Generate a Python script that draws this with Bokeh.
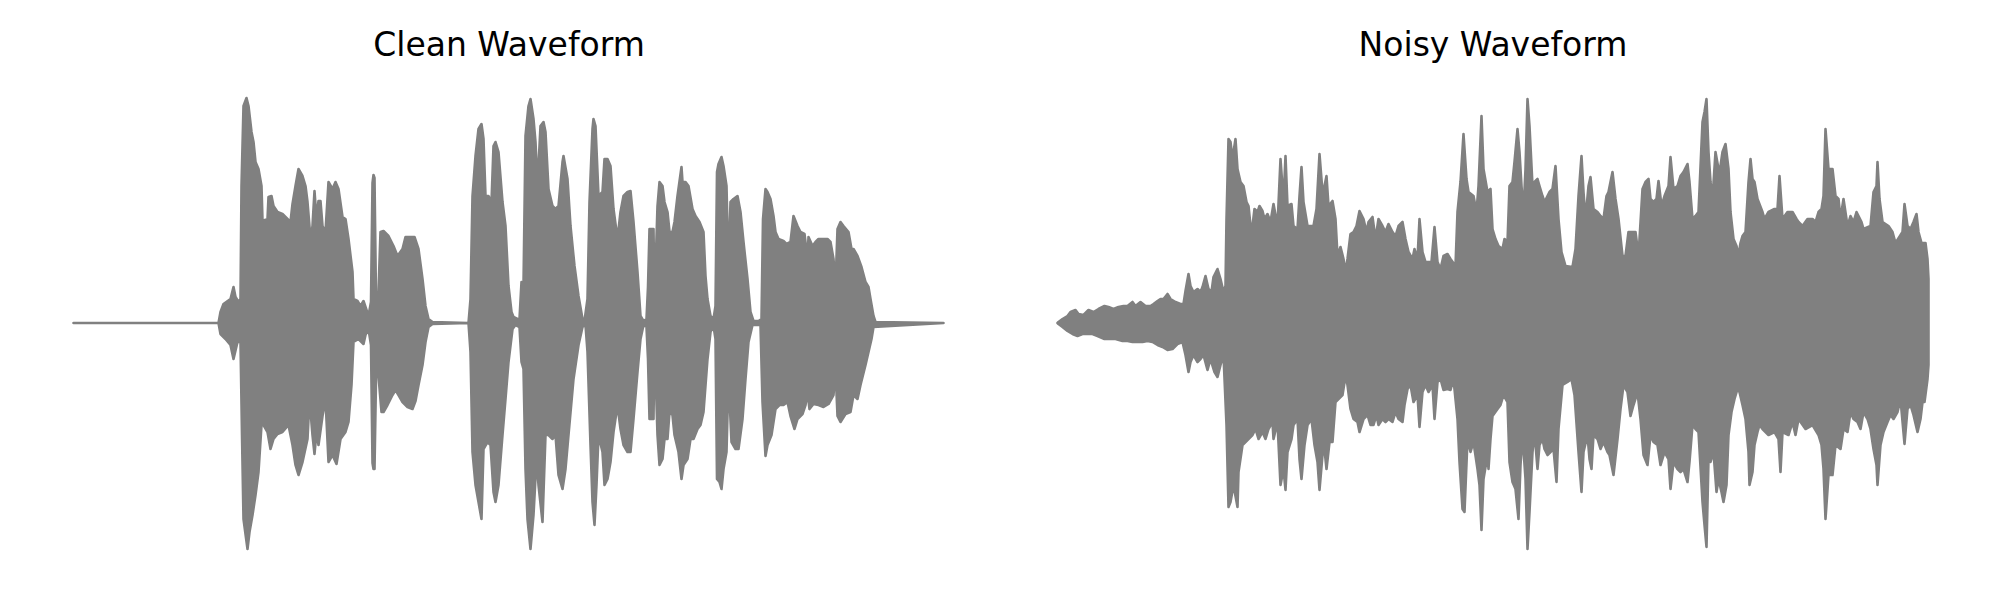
from bokeh.plotting import figure
from bokeh.layouts import row
from bokeh.models import Range1d
from bokeh.embed import file_html
from bokeh.resources import INLINE

# ---- data: waveform envelopes (time in ms, amplitude in arbitrary units) ----
titles = ["Clean Waveform", "Noisy Waveform"]

clean_upper = [
    (0, 0), (145, 0), (147, 11), (150, 19), (157, 24), (160, 36), (162, 26), (165, 21), (167, 24),
    (168, 137), (170, 217), (173, 225), (175, 217), (178, 191), (180, 181), (182, 161), (185, 154),
    (188, 137), (189, 102), (194, 104), (195, 126), (198, 127), (200, 117), (204, 111), (209, 109),
    (214, 104), (217, 101), (219, 119), (222, 137), (225, 154), (229, 147), (232, 137), (234, 121),
    (237, 84), (239, 97), (241, 132), (243, 104), (245, 122), (247, 122), (249, 97), (252, 91),
    (255, 141), (259, 134), (262, 141), (265, 134), (269, 106), (272, 104), (275, 84), (279, 51),
    (280, 24), (284, 22), (287, 17), (290, 22), (292, 16), (295, 7), (297.5, 21), (299, 140),
    (300, 148), (301, 145), (302.5, 24), (305, 31), (307, 91), (310, 92), (315, 87), (320, 77),
    (324, 67), (329, 74), (332, 86), (337, 86), (341, 86), (345, 74), (349, 44), (352, 17),
    (355, 4), (359, 1), (395, 0), (397, 24), (399, 127), (402, 167), (405, 194), (408, 199),
    (410, 184), (412, 127), (415, 127), (418, 121), (420, 177), (422, 181), (425, 171), (429, 121),
    (432, 97), (435, 37), (438, 11), (440, 6), (444, 4), (446, 4), (448, 41), (450, 37), (452, 187),
    (455, 217), (457, 224), (460, 204), (462, 181), (464, 137), (467, 197), (470, 201), (472, 191),
    (475, 134), (479, 117), (482, 114), (485, 117), (489, 161), (490, 167), (494, 144), (497, 97),
    (501, 57), (505, 27), (509, 4), (511, 2), (514, 24), (516, 121), (519, 194), (520, 204),
    (522, 197), (525, 127), (529, 131), (531, 164), (534, 164), (537, 157), (540, 114), (544, 84),
    (547, 111), (550, 127), (554, 131), (557, 132), (560, 101), (564, 51), (567, 7), (570, 2),
    (573, 4), (574.5, 36), (576, 94), (580, 94), (581, 21), (584, 117), (586, 141), (589, 137),
    (591, 121), (594, 111), (596, 91), (599, 91), (601, 101), (604, 127), (608, 156), (609, 141),
    (612, 141), (615, 137), (619, 114), (622, 107), (626, 101), (630, 91), (632, 47), (634, 24),
    (637, 7), (640, 4), (642, 17), (643.5, 151), (645, 159), (648, 166), (650, 157), (653, 137),
    (655, 51), (657, 121), (660, 124), (664, 127), (667, 111), (670, 81), (674, 44), (677, 11),
    (680, 2), (685, 2), (688, 4), (689.5, 104), (692, 134), (694, 131), (697, 124), (700, 107),
    (702, 91), (705, 84), (710, 82), (713, 79), (717, 81), (720, 107), (724, 97), (727, 91),
    (731, 89), (734, 64), (735, 86), (739, 77), (742, 81), (745, 84), (750, 84), (754, 84),
    (757, 81), (760, 64), (762, 37), (764, 94), (767, 101), (770, 97), (775, 91), (778, 74),
    (780, 74), (784, 67), (788, 56), (792, 41), (795, 36), (797, 24), (800, 7), (802, 1), (870, 0),
]
clean_lower = [
    (0, 0), (145, 0), (147, -11), (152, -16), (157, -22), (160, -36), (164, -19), (167, -19),
    (168.5, -112), (170, -196), (174, -226), (176, -209), (179, -192), (182, -172), (185, -149),
    (188, -102), (190, -102), (194, -109), (197, -126), (200, -116), (204, -111), (209, -109),
    (215, -102), (219, -122), (222, -142), (225, -152), (229, -139), (234, -116), (236, -76),
    (239, -112), (241, -131), (243, -109), (245, -122), (249, -93), (252, -76), (255, -139),
    (259, -132), (263, -141), (267, -116), (272, -109), (275, -99), (278, -62), (280, -19),
    (285, -16), (290, -21), (292, -12), (295, -6), (297.5, -22), (299, -140), (300, -146),
    (301, -146), (303, -26), (305, -53), (308, -89), (310, -89), (314, -82), (319, -72), (322, -67),
    (325, -72), (329, -79), (334, -84), (339, -86), (342, -78), (345, -62), (349, -42), (352, -19),
    (355, -4), (359, -1), (395, 0), (397, -29), (399, -129), (402, -162), (405, -179), (408, -196),
    (410, -126), (414, -119), (417, -122), (420, -169), (422, -179), (425, -162), (429, -112),
    (432, -76), (435, -39), (439, -6), (442, -2), (446, -4), (448, -39), (450, -46), (452, -146),
    (454, -196), (457, -226), (460, -192), (463, -136), (465, -162), (469, -199), (472, -112),
    (475, -112), (479, -116), (482, -112), (485, -152), (489, -166), (492, -146), (495, -112),
    (500, -56), (505, -22), (509, -4), (512, -2), (514, -29), (517, -122), (519, -179), (521, -202),
    (523, -162), (525, -112), (529, -129), (531, -162), (534, -156), (537, -139), (540, -109),
    (544, -82), (547, -106), (550, -122), (554, -129), (557, -129), (560, -96), (564, -49),
    (567, -16), (570, -2), (573, -4), (574.5, -36), (576, -96), (580, -96), (581, -16), (584, -112),
    (586, -142), (589, -136), (591, -116), (594, -116), (596, -89), (599, -92), (601, -112),
    (605, -129), (608, -156), (610, -142), (614, -136), (617, -116), (620, -116), (624, -106),
    (627, -102), (630, -89), (634, -36), (637, -9), (640, -3), (642, -16), (643.5, -156),
    (646, -159), (648, -166), (650, -146), (653, -129), (655, -53), (658, -119), (662, -126),
    (665, -126), (669, -96), (672, -56), (675, -19), (679, -2), (687, -2), (689, -79), (692, -133),
    (694, -122), (698, -112), (702, -86), (706, -82), (710, -82), (714, -79), (717, -93), (721, -106),
    (724, -96), (729, -91), (732, -82), (734, -69), (736, -86), (740, -81), (745, -82), (750, -84),
    (755, -81), (760, -72), (762, -46), (764, -93), (767, -99), (772, -91), (777, -89), (780, -72),
    (784, -76), (787, -62), (792, -42), (795, -29), (798, -16), (800, -4), (870, 0),
]

noisy_upper = [
    (0, 0), (1, 1), (5, 4), (10, 7), (13, 11), (18, 13), (21, 9), (26, 8), (31, 13), (36, 11),
    (41, 14), (47, 17), (51, 16), (56, 14), (61, 16), (66, 17), (70, 17), (75, 21), (78, 17),
    (83, 21), (88, 17), (93, 17), (96, 19), (100, 22), (103, 24), (106, 24), (110, 29), (113, 24),
    (118, 21), (123, 19), (126, 19), (128, 32), (131, 49), (133, 37), (136, 31), (140, 34),
    (143, 31), (145, 36), (148, 47), (151, 34), (154, 31), (156, 46), (160, 54), (163, 44),
    (166, 31), (168, 37), (169, 104), (171, 184), (173, 181), (175, 164), (178, 184), (180, 154),
    (183, 141), (186, 137), (189, 121), (191, 117), (193, 97), (195, 97), (197, 114), (200, 111),
    (202, 117), (205, 112), (207, 104), (210, 109), (213, 101), (216, 119), (220, 97), (223, 164),
    (226, 121), (228, 167), (230, 117), (234, 119), (236, 97), (240, 94), (242, 127), (244, 156),
    (246, 121), (250, 97), (256, 97), (259, 114), (262, 169), (265, 131), (267, 137), (269, 147),
    (271, 117), (275, 122), (278, 104), (280, 67), (283, 76), (286, 64), (288, 51), (290, 64),
    (293, 89), (296, 91), (299, 97), (302, 112), (306, 104), (309, 91), (311, 101), (315, 106),
    (318, 84), (321, 104), (325, 97), (328, 91), (331, 99), (335, 91), (338, 87), (341, 97),
    (345, 101), (348, 84), (351, 71), (355, 64), (357, 74), (360, 64), (362, 104), (365, 71),
    (368, 61), (374, 61), (377, 96), (380, 61), (383, 54), (386, 67), (390, 69), (393, 64),
    (398, 57), (400, 111), (403, 141), (406, 189), (409, 144), (411, 131), (416, 127), (419, 111),
    (421, 137), (424, 207), (426, 154), (430, 131), (433, 134), (435, 94), (438, 84), (441, 77),
    (445, 74), (447, 84), (450, 81), (452, 137), (455, 141), (457, 161), (460, 194), (462, 171),
    (464, 137), (466, 111), (468, 154), (470, 224), (472, 197), (475, 137), (477, 141), (480, 144),
    (482, 137), (485, 127), (487, 121), (490, 127), (492, 131), (495, 134), (498, 157), (501, 104),
    (504, 71), (508, 57), (515, 56), (518, 74), (521, 127), (524, 167), (526, 131), (528, 104),
    (531, 137), (533, 146), (536, 114), (540, 111), (543, 107), (546, 104), (549, 127), (551, 131),
    (555, 151), (558, 124), (561, 104), (565, 67), (568, 67), (571, 91), (578, 91), (581, 67),
    (585, 134), (588, 141), (591, 144), (593, 124), (596, 121), (599, 124), (601, 142), (604, 117),
    (607, 127), (611, 137), (613, 166), (616, 134), (620, 137), (623, 147), (626, 151), (630, 159),
    (632, 141), (635, 104), (638, 107), (641, 111), (645, 201), (647, 211), (649, 224), (651, 171),
    (653, 141), (655, 124), (658, 171), (661, 154), (663, 157), (665, 171), (668, 179), (671, 154),
    (673, 111), (676, 84), (679, 77), (681, 67), (683, 80), (685, 87), (688, 91), (691, 141),
    (693, 164), (695, 144), (697, 141), (700, 124), (705, 111), (707, 104), (711, 111), (717, 114),
    (720, 114), (722, 147), (725, 104), (730, 111), (735, 111), (739, 104), (741, 101), (745, 97),
    (750, 104), (755, 104), (758, 101), (761, 111), (764, 114), (766, 127), (768, 194), (771, 154),
    (775, 154), (778, 127), (781, 124), (783, 104), (786, 124), (790, 97), (793, 107), (796, 101),
    (799, 111), (804, 101), (806, 94), (813, 97), (816, 131), (819, 137), (820, 161), (822, 124),
    (825, 101), (831, 97), (835, 91), (838, 80), (845, 91), (847, 119), (850, 97), (853, 94),
    (856, 101), (859, 109), (861, 91), (864, 80), (868, 80), (870, 64), (871, 44),
]
noisy_lower = [
    (0, 0), (1, -1), (5, -4), (10, -8), (15, -11), (20, -13), (25, -11), (30, -11), (35, -11),
    (40, -13), (47, -16), (53, -16), (58, -16), (65, -18), (70, -18), (75, -19), (85, -19),
    (90, -18), (95, -19), (100, -22), (105, -24), (110, -27), (115, -26), (120, -21), (125, -19),
    (128, -32), (131, -49), (133, -39), (136, -32), (140, -39), (143, -36), (146, -32), (150, -47),
    (153, -36), (157, -49), (160, -54), (163, -42), (166, -32), (169, -102), (171, -184),
    (173, -179), (176, -162), (180, -184), (181, -149), (185, -122), (188, -119), (191, -116),
    (195, -112), (198, -106), (201, -116), (205, -109), (208, -116), (211, -106), (215, -99),
    (216, -116), (220, -99), (223, -162), (226, -146), (228, -167), (230, -129), (234, -116),
    (236, -102), (240, -96), (242, -136), (244, -156), (247, -122), (250, -102), (254, -96),
    (257, -122), (260, -139), (262, -167), (265, -132), (267, -126), (269, -146), (272, -119),
    (275, -119), (278, -79), (281, -76), (285, -72), (288, -53), (290, -62), (293, -86), (296, -96),
    (300, -99), (302, -109), (306, -96), (310, -92), (313, -102), (316, -102), (319, -92),
    (321, -102), (325, -96), (328, -99), (331, -96), (335, -99), (338, -89), (341, -96), (345, -99),
    (347, -82), (350, -66), (353, -62), (356, -79), (360, -72), (362, -104), (365, -69), (368, -62),
    (371, -69), (375, -62), (377, -96), (380, -59), (383, -56), (386, -67), (390, -66), (393, -67),
    (396, -56), (400, -96), (402, -139), (405, -186), (407, -189), (410, -116), (413, -129),
    (416, -119), (420, -146), (422, -162), (424, -207), (426, -156), (430, -132), (431, -146),
    (433, -116), (435, -93), (440, -86), (443, -82), (446, -72), (450, -79), (452, -139),
    (455, -159), (458, -166), (461, -196), (463, -142), (465, -112), (468, -156), (470, -226),
    (472, -189), (475, -129), (477, -109), (480, -146), (482, -122), (485, -116), (487, -126),
    (490, -132), (493, -129), (496, -126), (499, -159), (501, -106), (505, -62), (510, -59),
    (514, -56), (517, -72), (521, -129), (524, -169), (526, -129), (530, -112), (532, -136),
    (534, -146), (536, -112), (540, -116), (543, -126), (546, -119), (550, -129), (552, -132),
    (556, -152), (560, -116), (563, -86), (566, -62), (570, -69), (573, -93), (576, -82), (580, -69),
    (583, -96), (586, -132), (590, -142), (593, -112), (596, -119), (600, -122), (603, -142),
    (607, -129), (611, -136), (613, -166), (616, -139), (620, -146), (623, -149), (626, -146),
    (630, -159), (632, -139), (635, -102), (638, -106), (641, -109), (645, -179), (647, -202),
    (649, -224), (651, -136), (653, -139), (656, -129), (659, -169), (661, -156), (664, -169),
    (666, -179), (669, -162), (671, -112), (674, -89), (677, -76), (680, -66), (682, -69),
    (685, -82), (688, -96), (691, -129), (692, -162), (695, -149), (697, -122), (700, -109),
    (702, -102), (705, -106), (711, -112), (717, -109), (721, -116), (723, -149), (725, -109),
    (731, -112), (735, -99), (738, -112), (741, -96), (748, -106), (755, -102), (761, -112),
    (764, -122), (766, -146), (768, -196), (771, -152), (775, -152), (778, -122), (783, -126),
    (786, -106), (790, -109), (793, -89), (796, -96), (800, -99), (803, -106), (806, -89),
    (810, -96), (813, -106), (816, -126), (819, -142), (820, -162), (823, -122), (826, -109),
    (830, -99), (833, -92), (836, -96), (840, -89), (843, -76), (847, -121), (850, -86), (853, -82),
    (856, -92), (860, -109), (863, -96), (865, -79), (867, -79), (870, -56), (871, -42),
]

WAVE_COLOR = "#808080"


def make_panel(title, upper, lower, width, border_left, border_right):
    p = figure(
        width=width, height=584,
        x_range=Range1d(-43, 914), y_range=Range1d(-247.5, 247.5),
        x_axis_location=None, y_axis_location=None,
        toolbar_location=None, output_backend="svg",
        min_border=0,
    )
    p.min_border_left = border_left
    p.min_border_right = border_right
    p.min_border_top = 75
    p.min_border_bottom = 14
    p.grid.visible = False
    p.outline_line_color = None
    p.background_fill_color = "white"
    p.border_fill_color = "white"

    p.title.text = title
    p.title.align = "center"
    p.title.text_font = "DejaVu Sans"
    p.title.text_font_size = "33px"
    p.title.text_font_style = "normal"
    p.title.text_color = "#000000"
    p.title.standoff = 23

    xs = [t for t, a in upper] + [t for t, a in reversed(lower)]
    ys = [a for t, a in upper] + [a for t, a in reversed(lower)]
    p.patch(xs, ys, fill_color=WAVE_COLOR, line_color=WAVE_COLOR,
            line_width=2.6, line_join="round")
    return p


left = make_panel(titles[0], clean_upper, clean_lower, 1004, 30, 17)
right = make_panel(titles[1], noisy_upper, noisy_lower, 980, 10, 13)

layout = row(left, right)

open("out.html", "w").write(file_html(layout, INLINE))
